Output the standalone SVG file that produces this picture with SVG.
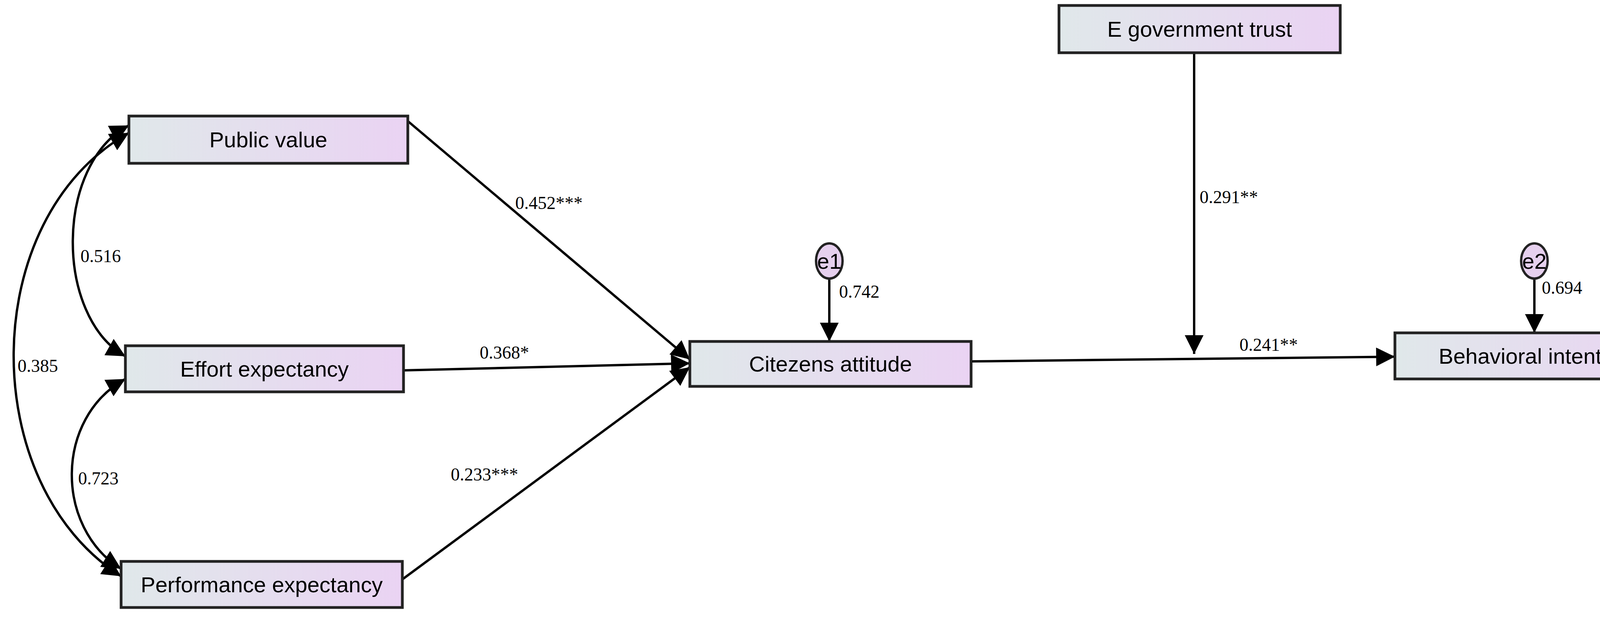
<svg xmlns="http://www.w3.org/2000/svg" width="4308" height="1587" viewBox="0 0 4308 1587">
<defs>
<linearGradient id="g" x1="0" y1="0" x2="1" y2="0"><stop offset="0" stop-color="#e0e8ea"/><stop offset="1" stop-color="#ead3f3"/></linearGradient>
<marker id="a" viewBox="0 0 10 10" refX="10" refY="5" markerWidth="12" markerHeight="8" markerUnits="strokeWidth" orient="auto-start-reverse"><path d="M0,0L10,5L0,10z" fill="#000"/></marker>
</defs>
<style>
.box{fill:url(#g);stroke:#222;stroke-width:7}
.nt{font-family:"Liberation Sans",Arial,sans-serif;font-size:56px;text-anchor:middle;fill:#000}
.lb{font-family:"Liberation Serif","Times New Roman",serif;font-size:46px;fill:#000}
.c{fill:none;stroke:#000;stroke-width:6}
.e{fill:#e6d0ee;stroke:#222;stroke-width:6}
</style>
<g id="connectors">
<path class="c" d="M1044,310L1766,920" marker-end="url(#a)"/>
<path class="c" d="M1033,948L1766,930" marker-end="url(#a)"/>
<path class="c" d="M1030,1483L1766,940" marker-end="url(#a)"/>
<path class="c" d="M2486,925L3571,913" marker-end="url(#a)"/>
<path class="c" d="M3057,135L3057,906" stroke-width="4" marker-end="url(#a)"/>
<path class="c" d="M2123,713L2123,874" marker-end="url(#a)"/>
<path class="c" d="M3928,713L3928,852" marker-end="url(#a)"/>
<path class="c" d="M330,321C140,420 140,810 321,912" marker-start="url(#a)" marker-end="url(#a)"/>
<path class="c" d="M321,970C140,1070 140,1350 310,1456" marker-start="url(#a)" marker-end="url(#a)"/>
<path class="c" d="M330,340C-60,560 -60,1240 310,1475" marker-start="url(#a)" marker-end="url(#a)"/>
<text class="lb" x="1319" y="535">0.452***</text>
<text class="lb" x="1228" y="918">0.368*</text>
<text class="lb" x="1154" y="1230">0.233***</text>
<text class="lb" x="3071" y="520">0.291**</text>
<text class="lb" x="3173" y="898">0.241**</text>
<text class="lb" x="2148" y="762">0.742</text>
<text class="lb" x="3947" y="752">0.694</text>
<text class="lb" x="206" y="671">0.516</text>
<text class="lb" x="45" y="952">0.385</text>
<text class="lb" x="200" y="1240">0.723</text>
</g>
<g id="public_value"><rect class="box" x="330" y="297" width="714" height="121"/><text class="nt" x="687" y="377">Public  value</text></g>
<g id="effort_expectancy"><rect class="box" x="321" y="885" width="712" height="118"/><text class="nt" x="677" y="964">Effort  expectancy</text></g>
<g id="performance_expectancy"><rect class="box" x="310" y="1437" width="720" height="118"/><text class="nt" x="670" y="1516">Performance  expectancy</text></g>
<g id="citizens_attitude"><rect class="box" x="1766" y="874" width="720" height="115"/><text class="nt" x="2126" y="951">Citezens  attitude</text></g>
<g id="egov_trust"><rect class="box" x="2711" y="14" width="720" height="121"/><text class="nt" x="3071" y="94">E  government  trust</text></g>
<g id="behavioral_intention"><rect class="box" x="3571" y="852" width="717" height="118"/><text class="nt" x="3929" y="931">Behavioral  intention</text></g>
<g id="e1"><ellipse class="e" cx="2123" cy="668" rx="34" ry="45"/><text class="nt" x="2123" y="688" font-size="50">e1</text></g>
<g id="e2"><ellipse class="e" cx="3928" cy="668" rx="34" ry="45"/><text class="nt" x="3928" y="688" font-size="50">e2</text></g>
</svg>
